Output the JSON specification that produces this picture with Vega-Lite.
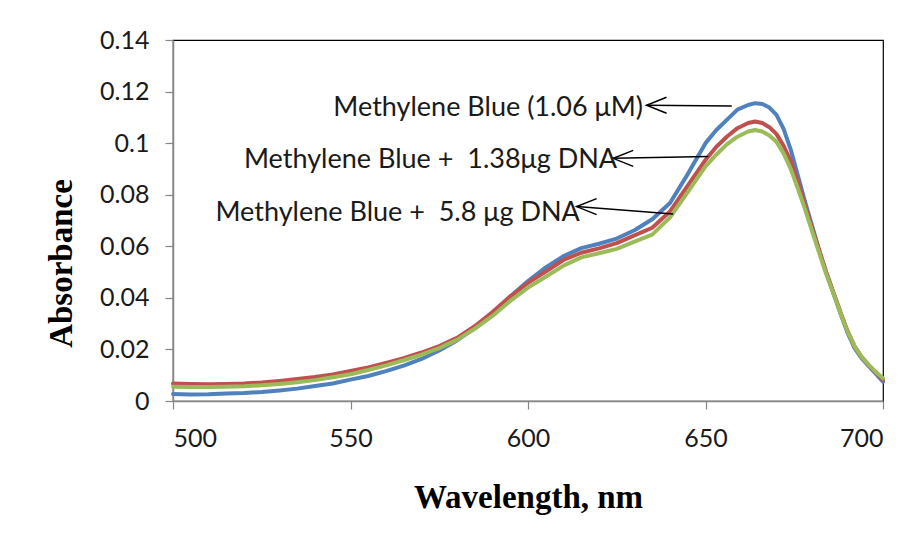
{
  "$schema": "https://vega.github.io/schema/vega-lite/v6.json",
  "width": 710,
  "height": 361,
  "autosize": "none",
  "padding": {"left": 173, "top": 40, "right": 39, "bottom": 141},
  "background": "white",
  "config": {
    "view": {"stroke": "#000000", "strokeWidth": 1.2},
    "axis": {
      "grid": false,
      "domainColor": "#868686",
      "domainWidth": 1.5,
      "tickColor": "#868686",
      "tickWidth": 1.2,
      "tickSize": 8,
      "labelFont": "Lato",
      "labelFontSize": 25,
      "labelColor": "#1a1a1a",
      "titleFont": "Liberation Serif",
      "titleFontWeight": "bold",
      "titleFontSize": 33,
      "titleColor": "#000000"
    }
  },
  "datasets": {
    "spectra": [
      {"series": "Methylene Blue (1.06 μM)", "wl": 500, "abs": 0.0027},
      {"series": "Methylene Blue (1.06 μM)", "wl": 505, "abs": 0.0025},
      {"series": "Methylene Blue (1.06 μM)", "wl": 510, "abs": 0.0026},
      {"series": "Methylene Blue (1.06 μM)", "wl": 515, "abs": 0.0029},
      {"series": "Methylene Blue (1.06 μM)", "wl": 520, "abs": 0.0031},
      {"series": "Methylene Blue (1.06 μM)", "wl": 525, "abs": 0.0035},
      {"series": "Methylene Blue (1.06 μM)", "wl": 530, "abs": 0.0041},
      {"series": "Methylene Blue (1.06 μM)", "wl": 535, "abs": 0.0048},
      {"series": "Methylene Blue (1.06 μM)", "wl": 540, "abs": 0.0058},
      {"series": "Methylene Blue (1.06 μM)", "wl": 545, "abs": 0.0068},
      {"series": "Methylene Blue (1.06 μM)", "wl": 550, "abs": 0.0083},
      {"series": "Methylene Blue (1.06 μM)", "wl": 555, "abs": 0.0097},
      {"series": "Methylene Blue (1.06 μM)", "wl": 560, "abs": 0.0116},
      {"series": "Methylene Blue (1.06 μM)", "wl": 565, "abs": 0.0137},
      {"series": "Methylene Blue (1.06 μM)", "wl": 570, "abs": 0.0163},
      {"series": "Methylene Blue (1.06 μM)", "wl": 575, "abs": 0.0196},
      {"series": "Methylene Blue (1.06 μM)", "wl": 580, "abs": 0.0235},
      {"series": "Methylene Blue (1.06 μM)", "wl": 585, "abs": 0.0283},
      {"series": "Methylene Blue (1.06 μM)", "wl": 590, "abs": 0.0342},
      {"series": "Methylene Blue (1.06 μM)", "wl": 595, "abs": 0.0405},
      {"series": "Methylene Blue (1.06 μM)", "wl": 600, "abs": 0.0465},
      {"series": "Methylene Blue (1.06 μM)", "wl": 605, "abs": 0.0518},
      {"series": "Methylene Blue (1.06 μM)", "wl": 610, "abs": 0.0562},
      {"series": "Methylene Blue (1.06 μM)", "wl": 615, "abs": 0.0593},
      {"series": "Methylene Blue (1.06 μM)", "wl": 620, "abs": 0.0610},
      {"series": "Methylene Blue (1.06 μM)", "wl": 625, "abs": 0.0630},
      {"series": "Methylene Blue (1.06 μM)", "wl": 630, "abs": 0.0662},
      {"series": "Methylene Blue (1.06 μM)", "wl": 635, "abs": 0.0705},
      {"series": "Methylene Blue (1.06 μM)", "wl": 640, "abs": 0.0768},
      {"series": "Methylene Blue (1.06 μM)", "wl": 645, "abs": 0.0880},
      {"series": "Methylene Blue (1.06 μM)", "wl": 650, "abs": 0.1000},
      {"series": "Methylene Blue (1.06 μM)", "wl": 653, "abs": 0.1050},
      {"series": "Methylene Blue (1.06 μM)", "wl": 656, "abs": 0.1090},
      {"series": "Methylene Blue (1.06 μM)", "wl": 659, "abs": 0.1130},
      {"series": "Methylene Blue (1.06 μM)", "wl": 662, "abs": 0.1148},
      {"series": "Methylene Blue (1.06 μM)", "wl": 664, "abs": 0.1155},
      {"series": "Methylene Blue (1.06 μM)", "wl": 666, "abs": 0.1152},
      {"series": "Methylene Blue (1.06 μM)", "wl": 668, "abs": 0.1138},
      {"series": "Methylene Blue (1.06 μM)", "wl": 670, "abs": 0.1110},
      {"series": "Methylene Blue (1.06 μM)", "wl": 672, "abs": 0.1055},
      {"series": "Methylene Blue (1.06 μM)", "wl": 674, "abs": 0.0975},
      {"series": "Methylene Blue (1.06 μM)", "wl": 676, "abs": 0.0875},
      {"series": "Methylene Blue (1.06 μM)", "wl": 678, "abs": 0.0775},
      {"series": "Methylene Blue (1.06 μM)", "wl": 680, "abs": 0.0680},
      {"series": "Methylene Blue (1.06 μM)", "wl": 682, "abs": 0.0585},
      {"series": "Methylene Blue (1.06 μM)", "wl": 684, "abs": 0.0498},
      {"series": "Methylene Blue (1.06 μM)", "wl": 686, "abs": 0.0420},
      {"series": "Methylene Blue (1.06 μM)", "wl": 688, "abs": 0.0340},
      {"series": "Methylene Blue (1.06 μM)", "wl": 690, "abs": 0.0265},
      {"series": "Methylene Blue (1.06 μM)", "wl": 692, "abs": 0.0205},
      {"series": "Methylene Blue (1.06 μM)", "wl": 694, "abs": 0.0165},
      {"series": "Methylene Blue (1.06 μM)", "wl": 696, "abs": 0.0135},
      {"series": "Methylene Blue (1.06 μM)", "wl": 698, "abs": 0.0105},
      {"series": "Methylene Blue (1.06 μM)", "wl": 700, "abs": 0.0075},

      {"series": "Methylene Blue + 1.38μg DNA", "wl": 500, "abs": 0.0068},
      {"series": "Methylene Blue + 1.38μg DNA", "wl": 505, "abs": 0.0066},
      {"series": "Methylene Blue + 1.38μg DNA", "wl": 510, "abs": 0.0065},
      {"series": "Methylene Blue + 1.38μg DNA", "wl": 515, "abs": 0.0066},
      {"series": "Methylene Blue + 1.38μg DNA", "wl": 520, "abs": 0.0068},
      {"series": "Methylene Blue + 1.38μg DNA", "wl": 525, "abs": 0.0072},
      {"series": "Methylene Blue + 1.38μg DNA", "wl": 530, "abs": 0.0078},
      {"series": "Methylene Blue + 1.38μg DNA", "wl": 535, "abs": 0.0085},
      {"series": "Methylene Blue + 1.38μg DNA", "wl": 540, "abs": 0.0093},
      {"series": "Methylene Blue + 1.38μg DNA", "wl": 545, "abs": 0.0103},
      {"series": "Methylene Blue + 1.38μg DNA", "wl": 550, "abs": 0.0116},
      {"series": "Methylene Blue + 1.38μg DNA", "wl": 555, "abs": 0.0130},
      {"series": "Methylene Blue + 1.38μg DNA", "wl": 560, "abs": 0.0148},
      {"series": "Methylene Blue + 1.38μg DNA", "wl": 565, "abs": 0.0166},
      {"series": "Methylene Blue + 1.38μg DNA", "wl": 570, "abs": 0.0188},
      {"series": "Methylene Blue + 1.38μg DNA", "wl": 575, "abs": 0.0213},
      {"series": "Methylene Blue + 1.38μg DNA", "wl": 580, "abs": 0.0245},
      {"series": "Methylene Blue + 1.38μg DNA", "wl": 585, "abs": 0.0290},
      {"series": "Methylene Blue + 1.38μg DNA", "wl": 590, "abs": 0.0345},
      {"series": "Methylene Blue + 1.38μg DNA", "wl": 595, "abs": 0.0405},
      {"series": "Methylene Blue + 1.38μg DNA", "wl": 600, "abs": 0.0458},
      {"series": "Methylene Blue + 1.38μg DNA", "wl": 605, "abs": 0.0502},
      {"series": "Methylene Blue + 1.38μg DNA", "wl": 610, "abs": 0.0547},
      {"series": "Methylene Blue + 1.38μg DNA", "wl": 615, "abs": 0.0575},
      {"series": "Methylene Blue + 1.38μg DNA", "wl": 620, "abs": 0.0592},
      {"series": "Methylene Blue + 1.38μg DNA", "wl": 625, "abs": 0.0612},
      {"series": "Methylene Blue + 1.38μg DNA", "wl": 630, "abs": 0.0642},
      {"series": "Methylene Blue + 1.38μg DNA", "wl": 635, "abs": 0.0672},
      {"series": "Methylene Blue + 1.38μg DNA", "wl": 640, "abs": 0.0735},
      {"series": "Methylene Blue + 1.38μg DNA", "wl": 645, "abs": 0.0835},
      {"series": "Methylene Blue + 1.38μg DNA", "wl": 650, "abs": 0.0935},
      {"series": "Methylene Blue + 1.38μg DNA", "wl": 653, "abs": 0.0985},
      {"series": "Methylene Blue + 1.38μg DNA", "wl": 656, "abs": 0.1025},
      {"series": "Methylene Blue + 1.38μg DNA", "wl": 659, "abs": 0.1058},
      {"series": "Methylene Blue + 1.38μg DNA", "wl": 662, "abs": 0.1078},
      {"series": "Methylene Blue + 1.38μg DNA", "wl": 664, "abs": 0.1084},
      {"series": "Methylene Blue + 1.38μg DNA", "wl": 666, "abs": 0.1078},
      {"series": "Methylene Blue + 1.38μg DNA", "wl": 668, "abs": 0.1062},
      {"series": "Methylene Blue + 1.38μg DNA", "wl": 670, "abs": 0.1035},
      {"series": "Methylene Blue + 1.38μg DNA", "wl": 672, "abs": 0.0990},
      {"series": "Methylene Blue + 1.38μg DNA", "wl": 674, "abs": 0.0930},
      {"series": "Methylene Blue + 1.38μg DNA", "wl": 676, "abs": 0.0850},
      {"series": "Methylene Blue + 1.38μg DNA", "wl": 678, "abs": 0.0760},
      {"series": "Methylene Blue + 1.38μg DNA", "wl": 680, "abs": 0.0672},
      {"series": "Methylene Blue + 1.38μg DNA", "wl": 682, "abs": 0.0585},
      {"series": "Methylene Blue + 1.38μg DNA", "wl": 684, "abs": 0.0500},
      {"series": "Methylene Blue + 1.38μg DNA", "wl": 686, "abs": 0.0422},
      {"series": "Methylene Blue + 1.38μg DNA", "wl": 688, "abs": 0.0345},
      {"series": "Methylene Blue + 1.38μg DNA", "wl": 690, "abs": 0.0272},
      {"series": "Methylene Blue + 1.38μg DNA", "wl": 692, "abs": 0.0212},
      {"series": "Methylene Blue + 1.38μg DNA", "wl": 694, "abs": 0.0170},
      {"series": "Methylene Blue + 1.38μg DNA", "wl": 696, "abs": 0.0138},
      {"series": "Methylene Blue + 1.38μg DNA", "wl": 698, "abs": 0.0110},
      {"series": "Methylene Blue + 1.38μg DNA", "wl": 700, "abs": 0.0082},

      {"series": "Methylene Blue + 5.8 μg DNA", "wl": 500, "abs": 0.0055},
      {"series": "Methylene Blue + 5.8 μg DNA", "wl": 505, "abs": 0.0054},
      {"series": "Methylene Blue + 5.8 μg DNA", "wl": 510, "abs": 0.0054},
      {"series": "Methylene Blue + 5.8 μg DNA", "wl": 515, "abs": 0.0055},
      {"series": "Methylene Blue + 5.8 μg DNA", "wl": 520, "abs": 0.0057},
      {"series": "Methylene Blue + 5.8 μg DNA", "wl": 525, "abs": 0.0061},
      {"series": "Methylene Blue + 5.8 μg DNA", "wl": 530, "abs": 0.0066},
      {"series": "Methylene Blue + 5.8 μg DNA", "wl": 535, "abs": 0.0073},
      {"series": "Methylene Blue + 5.8 μg DNA", "wl": 540, "abs": 0.0081},
      {"series": "Methylene Blue + 5.8 μg DNA", "wl": 545, "abs": 0.0092},
      {"series": "Methylene Blue + 5.8 μg DNA", "wl": 550, "abs": 0.0104},
      {"series": "Methylene Blue + 5.8 μg DNA", "wl": 555, "abs": 0.0120},
      {"series": "Methylene Blue + 5.8 μg DNA", "wl": 560, "abs": 0.0138},
      {"series": "Methylene Blue + 5.8 μg DNA", "wl": 565, "abs": 0.0158},
      {"series": "Methylene Blue + 5.8 μg DNA", "wl": 570, "abs": 0.0180},
      {"series": "Methylene Blue + 5.8 μg DNA", "wl": 575, "abs": 0.0205},
      {"series": "Methylene Blue + 5.8 μg DNA", "wl": 580, "abs": 0.0237},
      {"series": "Methylene Blue + 5.8 μg DNA", "wl": 585, "abs": 0.0280},
      {"series": "Methylene Blue + 5.8 μg DNA", "wl": 590, "abs": 0.0330},
      {"series": "Methylene Blue + 5.8 μg DNA", "wl": 595, "abs": 0.0388},
      {"series": "Methylene Blue + 5.8 μg DNA", "wl": 600, "abs": 0.0440},
      {"series": "Methylene Blue + 5.8 μg DNA", "wl": 605, "abs": 0.0482},
      {"series": "Methylene Blue + 5.8 μg DNA", "wl": 610, "abs": 0.0525},
      {"series": "Methylene Blue + 5.8 μg DNA", "wl": 615, "abs": 0.0557},
      {"series": "Methylene Blue + 5.8 μg DNA", "wl": 620, "abs": 0.0573},
      {"series": "Methylene Blue + 5.8 μg DNA", "wl": 625, "abs": 0.0590},
      {"series": "Methylene Blue + 5.8 μg DNA", "wl": 630, "abs": 0.0618},
      {"series": "Methylene Blue + 5.8 μg DNA", "wl": 635, "abs": 0.0645},
      {"series": "Methylene Blue + 5.8 μg DNA", "wl": 640, "abs": 0.0712},
      {"series": "Methylene Blue + 5.8 μg DNA", "wl": 645, "abs": 0.0810},
      {"series": "Methylene Blue + 5.8 μg DNA", "wl": 650, "abs": 0.0910},
      {"series": "Methylene Blue + 5.8 μg DNA", "wl": 653, "abs": 0.0955},
      {"series": "Methylene Blue + 5.8 μg DNA", "wl": 656, "abs": 0.0995},
      {"series": "Methylene Blue + 5.8 μg DNA", "wl": 659, "abs": 0.1025},
      {"series": "Methylene Blue + 5.8 μg DNA", "wl": 662, "abs": 0.1045},
      {"series": "Methylene Blue + 5.8 μg DNA", "wl": 664, "abs": 0.1051},
      {"series": "Methylene Blue + 5.8 μg DNA", "wl": 666, "abs": 0.1045},
      {"series": "Methylene Blue + 5.8 μg DNA", "wl": 668, "abs": 0.1030},
      {"series": "Methylene Blue + 5.8 μg DNA", "wl": 670, "abs": 0.1005},
      {"series": "Methylene Blue + 5.8 μg DNA", "wl": 672, "abs": 0.0960},
      {"series": "Methylene Blue + 5.8 μg DNA", "wl": 674, "abs": 0.0900},
      {"series": "Methylene Blue + 5.8 μg DNA", "wl": 676, "abs": 0.0825},
      {"series": "Methylene Blue + 5.8 μg DNA", "wl": 678, "abs": 0.0745},
      {"series": "Methylene Blue + 5.8 μg DNA", "wl": 680, "abs": 0.0660},
      {"series": "Methylene Blue + 5.8 μg DNA", "wl": 682, "abs": 0.0575},
      {"series": "Methylene Blue + 5.8 μg DNA", "wl": 684, "abs": 0.0492},
      {"series": "Methylene Blue + 5.8 μg DNA", "wl": 686, "abs": 0.0418},
      {"series": "Methylene Blue + 5.8 μg DNA", "wl": 688, "abs": 0.0342},
      {"series": "Methylene Blue + 5.8 μg DNA", "wl": 690, "abs": 0.0270},
      {"series": "Methylene Blue + 5.8 μg DNA", "wl": 692, "abs": 0.0212},
      {"series": "Methylene Blue + 5.8 μg DNA", "wl": 694, "abs": 0.0170},
      {"series": "Methylene Blue + 5.8 μg DNA", "wl": 696, "abs": 0.0140},
      {"series": "Methylene Blue + 5.8 μg DNA", "wl": 698, "abs": 0.0112},
      {"series": "Methylene Blue + 5.8 μg DNA", "wl": 700, "abs": 0.0088}
    ],
    "notes": [
      {"label": "Methylene Blue (1.06 μM)", "tx": 632.4, "ty": 0.1137, "hx": 633.4, "hy": 0.1147, "ex": 657.4, "ey": 0.1144},
      {"label": "Methylene Blue +\u00a0 1.38μg DNA", "tx": 625.1, "ty": 0.0935, "hx": 624.0, "hy": 0.0941, "ex": 650.8, "ey": 0.0948},
      {"label": "Methylene Blue +\u00a0 5.8 μg DNA", "tx": 614.6, "ty": 0.0729, "hx": 613.7, "hy": 0.0754, "ex": 640.9, "ey": 0.0725}
    ]
  },
  "layer": [
    {
      "data": {"name": "spectra"},
      "mark": {"type": "line", "strokeWidth": 4, "strokeJoin": "round", "strokeCap": "round"},
      "encoding": {
        "x": {
          "field": "wl", "type": "quantitative",
          "scale": {"domain": [500, 700], "nice": false},
          "axis": {"values": [500, 550, 600, 650, 700], "title": "Wavelength, nm", "labelPadding": 17, "titleY": 96, "titleBaseline": "middle"}
        },
        "y": {
          "field": "abs", "type": "quantitative",
          "scale": {"domain": [0, 0.14], "nice": false},
          "axis": {"values": [0, 0.02, 0.04, 0.06, 0.08, 0.1, 0.12, 0.14], "format": "~g", "title": "Absorbance", "labelPadding": 16, "titleX": -112, "titleY": 223, "titleAngle": -90, "titleBaseline": "middle", "titleAlign": "center"}
        },
        "color": {
          "field": "series", "type": "nominal",
          "scale": {"domain": ["Methylene Blue (1.06 μM)", "Methylene Blue + 1.38μg DNA", "Methylene Blue + 5.8 μg DNA"], "range": ["#4F81BD", "#C0504D", "#9BBB59"]},
          "legend": null
        },
        "order": {"field": "wl", "type": "quantitative"}
      }
    },
    {
      "data": {"name": "notes"},
      "mark": {"type": "rule", "color": "#000000", "strokeWidth": 1.5},
      "encoding": {
        "x": {"field": "hx", "type": "quantitative"},
        "y": {"field": "hy", "type": "quantitative"},
        "x2": {"field": "ex"},
        "y2": {"field": "ey"}
      }
    },
    {
      "data": {"name": "notes"},
      "mark": {"type": "point", "shape": "M2,-0.8L0,0L2,0.8", "filled": false, "stroke": "#000000", "strokeWidth": 1.5, "size": 400, "opacity": 1},
      "encoding": {
        "x": {"field": "hx", "type": "quantitative"},
        "y": {"field": "hy", "type": "quantitative"}
      }
    },
    {
      "data": {"name": "notes"},
      "mark": {"type": "text", "align": "right", "baseline": "middle", "font": "Lato", "fontSize": 27, "color": "#1a1a1a"},
      "encoding": {
        "x": {"field": "tx", "type": "quantitative"},
        "y": {"field": "ty", "type": "quantitative"},
        "text": {"field": "label"}
      }
    }
  ]
}
